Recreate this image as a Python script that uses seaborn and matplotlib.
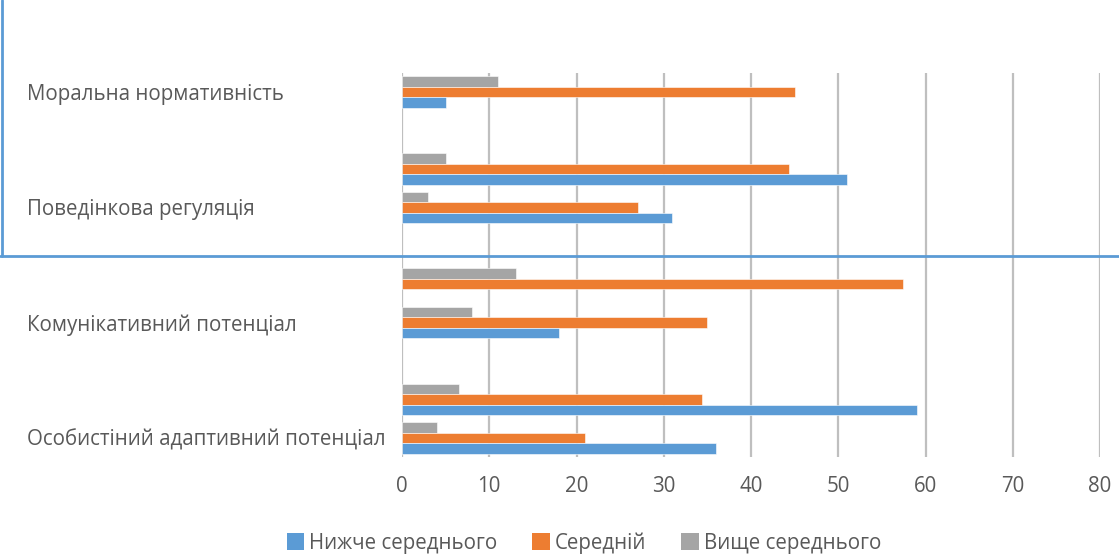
import numpy as np
import pandas as pd
import matplotlib
matplotlib.use('Agg')
import matplotlib.pyplot as plt
import seaborn as sns
from matplotlib.lines import Line2D
from matplotlib.patches import Patch

# category slots from top to bottom (Excel shows a label on every third slot)
slot_keys = ['s0', 's1', 's2', 's3', 's4', 's5', 's6', 's7', 's8', 's9']
tick_labels = ['Моральна нормативність', '', '', 'Поведінкова регуляція', '', '',
               'Комунікативний потенціал', '', '', 'Особистіний адаптивний потенціал']

nyzhche = [5, None, 51, 31, None, 0, 18, None, 59, 36]
seredniy = [45, None, 44.4, 27, None, 57.4, 35, None, 34.4, 21]
vyshche = [11, None, 5, 3, None, 13.1, 8, None, 6.5, 4]

series_names = ['Нижче середнього', 'Середній', 'Вище середнього']
colors = {'Нижче середнього': '#5B9BD5', 'Середній': '#ED7D31', 'Вище середнього': '#A5A5A5'}
x_ticks = [0, 10, 20, 30, 40, 50, 60, 70, 80]

rows = []
for name, vals in zip(series_names, [nyzhche, seredniy, vyshche]):
    for k, v in zip(slot_keys, vals):
        if v is not None and v > 0:
            rows.append({'slot': k, 'series': name, 'value': v})
df = pd.DataFrame(rows)

sns.set_style('white')
plt.rcParams['font.family'] = ['Open Sans', 'DejaVu Sans']
text_color = '#595959'
fs = 14.8

fig = plt.figure(figsize=(11.19, 5.55), dpi=100)
W, H = 1119, 555
ax = fig.add_axes([402 / W, 1 - 457 / H, (1100 - 402) / W, (457 - 73) / H])

sns.barplot(data=df, y='slot', x='value', hue='series', orient='h',
            order=slot_keys, hue_order=series_names[::-1], palette=colors,
            saturation=1, width=0.82, edgecolor='white', linewidth=0.4,
            ax=ax, legend=False)

ax.set_xlim(0, 80)
ax.set_ylim(len(slot_keys) - 0.5, -0.5)
ax.set_xticks(x_ticks)
ax.set_xticklabels([str(t) for t in x_ticks], fontsize=fs, color=text_color)
ax.set_yticks(range(len(slot_keys)))
ax.set_yticklabels(tick_labels, fontsize=fs, color=text_color,
                   verticalalignment='center_baseline')
for lab in ax.get_yticklabels():
    lab.set_horizontalalignment('left')
ax.tick_params(axis='y', length=0, pad=270)
ax.tick_params(axis='x', length=0, pad=14)
ax.set_xlabel('')
ax.set_ylabel('')
for s in ax.spines.values():
    s.set_visible(False)
ax.grid(axis='x', color='#BFBFBF', linewidth=1.6)
ax.set_axisbelow(True)

handles = [Patch(facecolor=colors[n], edgecolor='none') for n in series_names]
fig.legend(handles, series_names, loc='center', bbox_to_anchor=(584 / W, 1 - 543 / H),
           ncol=3, frameon=False, fontsize=fs, labelcolor=text_color,
           handlelength=0.85, handleheight=0.85, handletextpad=0.25, columnspacing=1.7)

# blue selection frame seen in the screenshot
fig.add_artist(Line2D([2 / W, 2 / W], [1, 1 - 256 / H], color='#5B9BD5', linewidth=2,
                      transform=fig.transFigure))
fig.add_artist(Line2D([0, 1], [1 - 256 / H, 1 - 256 / H], color='#5B9BD5', linewidth=2,
                      transform=fig.transFigure))

fig.savefig('out.png', dpi=100)
